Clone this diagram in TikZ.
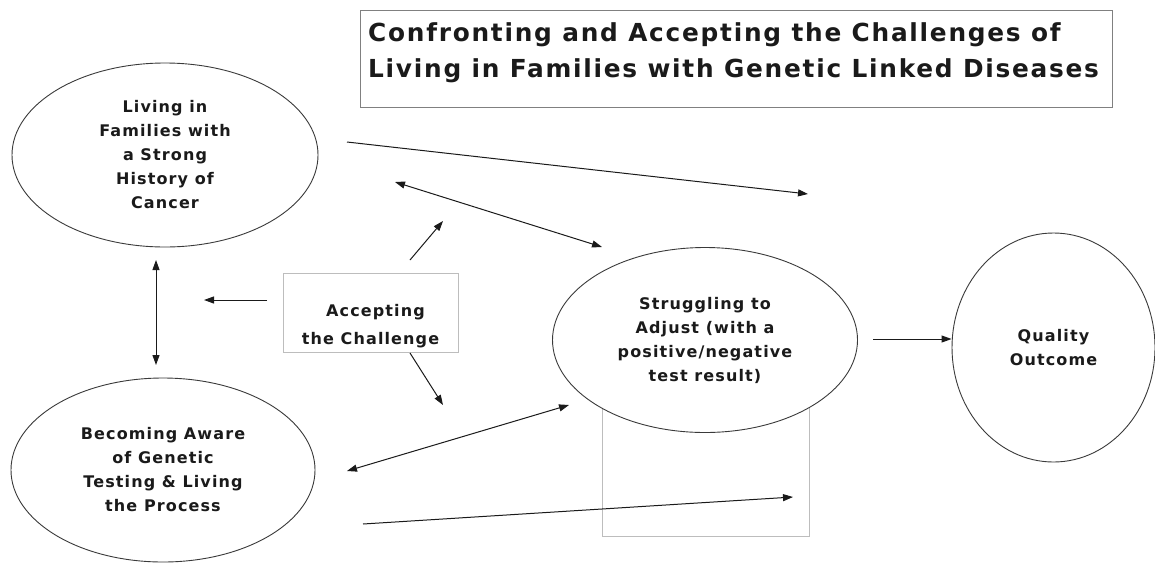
\documentclass[tikz,border=0pt]{standalone}
\usepackage{fontspec}
\setmainfont{DejaVu Sans}[LetterSpace=7]
\usetikzlibrary{shapes.geometric,arrows.meta}
\definecolor{ink}{HTML}{1A1A1A}
\definecolor{ink2}{HTML}{3A3A3A}
\definecolor{rule}{HTML}{BDBDBD}
\definecolor{frame}{HTML}{808080}

\begin{document}
\begin{tikzpicture}[x=1pt, y=-1pt,
  ell/.style={ellipse, draw=ink2, line width=0.9pt, fill=white, align=center, inner sep=0pt,
    text=ink, font=\bfseries\fontsize{16}{24}\selectfont},
  greybox/.style={draw=rule, line width=0.9pt, inner sep=0pt},
  titlebox/.style={draw=frame, line width=1.3pt, anchor=north west, inner sep=0pt},
  titletext/.style={anchor=north west, align=left, inner sep=0pt, xshift=8pt, yshift=-12pt,
    text=ink, font=\bfseries\fontsize{24.8}{36}\selectfont},
  arr/.style={-{Triangle[length=10pt, width=7pt]}, draw=ink, line width=1pt},
  darr/.style={arr, {Triangle[length=10pt, width=7pt]}-{Triangle[length=10pt, width=7pt]}}]
\useasboundingbox (0,0) rectangle (1155,563);
% title
\node[titlebox, minimum width=752pt, minimum height=97pt,
  label={[titletext]north west:{Confronting and Accepting the Challenges of\\ Living in Families with Genetic Linked Diseases}}]
  (title) at (360,10) {};
% the empty grey box sits behind the struggling ellipse
\node[greybox, minimum width=207pt, minimum height=156pt] (blank) at (705.5,458) {};
% ellipses
\node[ell, minimum width=306pt, minimum height=184pt] (live) at (165,155)
  {Living in\\ Families with\\ a Strong\\ History of\\ Cancer};
\node[ell, minimum width=304pt, minimum height=184pt] (aware) at (163,470)
  {Becoming Aware\\ of Genetic\\ Testing \& Living\\ the Process};
\node[ell, minimum width=305pt, minimum height=185pt] (adjust) at (705,340)
  {Struggling to\\ Adjust (with a\\ positive/negative\\ test result)};
\node[ell, minimum width=203pt, minimum height=229pt] (qual) at (1053.5,347.5)
  {Quality\\ Outcome};
% accepting the challenge
\node[greybox, minimum width=175pt, minimum height=79pt,
  label={[yshift=-14pt, align=center, text=ink, font=\bfseries\fontsize{16}{28}\selectfont]center:{\hspace*{10pt}Accepting\\ the Challenge}}]
  (accept) at (370.5,312.5) {};
% free ends of the connectors
\coordinate (liveR)   at (347,142);
\coordinate (farTop)  at (808,194);
\coordinate (liveLo)  at (395,182);
\coordinate (adjUp)   at (602,247);
\coordinate (accUp1)  at (410,260);
\coordinate (accUp2)  at (443,221);
\coordinate (accL1)   at (267,300);
\coordinate (accL2)   at (204,300);
\coordinate (liveBot) at (156,260);
\coordinate (awareTop) at (156,365);
\coordinate (accDn1)  at (410,353);
\coordinate (accDn2)  at (443,405);
\coordinate (awareR)  at (347,471);
\coordinate (adjLo)   at (569,405);
\coordinate (awareLo) at (363,524);
\coordinate (farBot)  at (793,497);
\coordinate (adjR)    at (873,339);
% connectors
\draw[arr]  (liveR) -- (farTop);
\draw[darr] (liveLo) -- (adjUp);
\draw[arr]  (accUp1) -- (accUp2);
\draw[arr]  (accL1) -- (accL2);
\draw[darr] (liveBot) -- (awareTop);
\draw[arr]  (accDn1) -- (accDn2);
\draw[darr] (awareR) -- (adjLo);
\draw[arr]  (awareLo) -- (farBot);
\draw[arr]  (adjR) -- (adjR -| qual.west);
\end{tikzpicture}
\end{document}
